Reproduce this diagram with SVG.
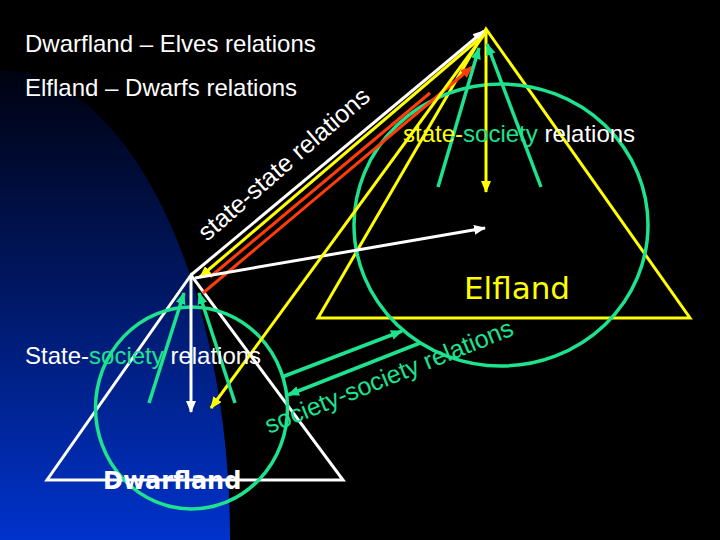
<svg xmlns="http://www.w3.org/2000/svg" width="720" height="540" viewBox="0 0 720 540">
<defs>
<linearGradient id="blueGrad" gradientUnits="userSpaceOnUse" x1="0" y1="70" x2="0" y2="540">
<stop offset="0" stop-color="#000210"/>
<stop offset="0.45" stop-color="#001660"/>
<stop offset="1" stop-color="#0033cc"/>
</linearGradient>
<marker id="aw" markerUnits="userSpaceOnUse" markerWidth="12" markerHeight="10" viewBox="0 0 12 10" refX="11" refY="5" orient="auto"><path d="M0,0 L12,5 L0,10 z" fill="#ffffff"/></marker>
<marker id="ay" markerUnits="userSpaceOnUse" markerWidth="12" markerHeight="10" viewBox="0 0 12 10" refX="11" refY="5" orient="auto"><path d="M0,0 L12,5 L0,10 z" fill="#ffff00"/></marker>
<marker id="ar" markerUnits="userSpaceOnUse" markerWidth="12" markerHeight="10" viewBox="0 0 12 10" refX="11" refY="5" orient="auto"><path d="M0,0 L12,5 L0,10 z" fill="#ff3c0a"/></marker>
<marker id="ag" markerUnits="userSpaceOnUse" markerWidth="12" markerHeight="10" viewBox="0 0 12 10" refX="11" refY="5" orient="auto"><path d="M0,0 L12,5 L0,10 z" fill="#1de38f"/></marker>
</defs>
<style>
.t{font-family:"Liberation Sans",Arial,sans-serif;font-size:24px;fill:#ffffff}
.g{fill:#1de38f}
.y{fill:#ffff00}
.cw{stroke:#ffffff;stroke-width:3;fill:none}
.cy{stroke:#ffff00;stroke-width:3;fill:none}
.cr{stroke:#ff3c0a;stroke-width:3;fill:none}
.cg{stroke:#1de38f;stroke-width:3.5;fill:none}
.circ{stroke:#1de38f;stroke-width:3.5;fill:none}
</style>
<rect x="0" y="0" width="720" height="540" fill="#000000"/>
<ellipse cx="0" cy="540" rx="230" ry="470" fill="url(#blueGrad)"/>

<g id="elfland">
<polygon points="486,29 318,318 690,318" class="cy"/>
<ellipse cx="501" cy="225" rx="147" ry="141" class="circ"/>
<text x="464" y="299" font-family="DejaVu Sans,Verdana,sans-serif" font-size="31" fill="#ffff00">Elfland</text>
</g>

<g id="dwarfland">
<polygon points="191,275 47,480 343,480" class="cw"/>
<ellipse cx="191.5" cy="408" rx="96" ry="101" class="circ"/>
<text x="103" y="489" font-family="DejaVu Sans,Verdana,sans-serif" font-weight="bold" font-size="24" fill="#ffffff">Dwarfland</text>
</g>

<g id="connectors">
<path d="M191,275 L484,31" class="cw" marker-end="url(#aw)"/>
<path d="M479,39 L200,277" class="cy" marker-end="url(#ay)"/>
<path d="M210,277 L430,93" class="cr"/>
<path d="M203,293 L472,67" class="cr" marker-end="url(#ar)"/>
<path d="M195,278 L485,228" class="cw" marker-end="url(#aw)"/>
<path d="M191,276 L191,412" class="cw" marker-end="url(#aw)"/>
<path d="M486,31 L486,192" class="cy" marker-end="url(#ay)"/>
<path d="M486,32 L211,408" class="cy" marker-end="url(#ay)"/>
<path d="M438,187 L479,48" class="cg" marker-end="url(#ag)"/>
<path d="M541,187 L487,44" class="cg" marker-end="url(#ag)"/>
<path d="M149,403 L184,293" class="cg" marker-end="url(#ag)"/>
<path d="M235,403 L199,293" class="cg" marker-end="url(#ag)"/>
<path d="M282,377 L402,331" class="cg" marker-end="url(#ag)"/>
<path d="M420,343 L288,395" class="cg" marker-end="url(#ag)"/>
</g>

<g id="labels">
<text class="t" x="25" y="52">Dwarfland – Elves relations</text>
<text class="t" x="25" y="96">Elfland – Dwarfs relations</text>
<text class="t" x="25" y="364">State-<tspan class="g">society</tspan> relations</text>
<text class="t" x="403" y="142"><tspan class="y">state-</tspan><tspan class="g">society</tspan> relations</text>
<text class="t" x="207" y="242" font-size="25" transform="rotate(-41 207 242)" style="font-size:25px">state-state relations</text>
<text class="t g" x="269" y="434" transform="rotate(-22 269 434)" style="font-size:25px">society-society relations</text>
</g>
</svg>
